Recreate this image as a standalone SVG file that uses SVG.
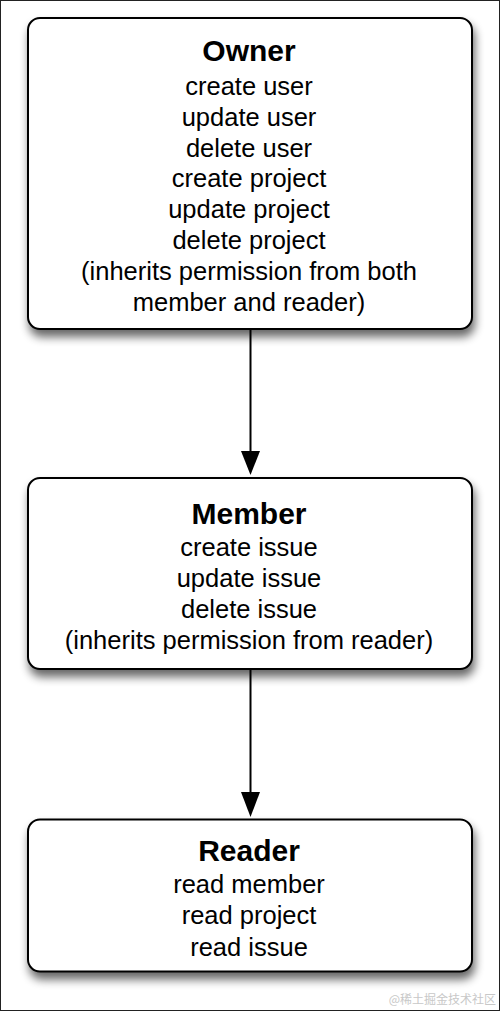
<svg xmlns="http://www.w3.org/2000/svg" width="500" height="1011" viewBox="0 0 500 1011">
<defs>
<filter id="shadow" x="-10%" y="-10%" width="125%" height="135%">
<feGaussianBlur in="SourceAlpha" stdDeviation="5"/>
<feOffset dx="2" dy="7" result="b"/>
<feComponentTransfer><feFuncA type="linear" slope="0.6"/></feComponentTransfer>
<feMerge><feMergeNode/><feMergeNode in="SourceGraphic"/></feMerge>
</filter>
</defs>
<style>
.box{fill:#fff;stroke:#000;stroke-width:2}
.title{font-family:"Liberation Sans",Arial,sans-serif;font-weight:bold;font-size:30px;text-anchor:middle;fill:#000}
.body{font-family:"Liberation Sans",Arial,sans-serif;font-size:25.5px;text-anchor:middle;fill:#000}
.edge{stroke:#000;stroke-width:2;fill:none}
.head{fill:#000}
</style>
<rect x="0" y="0" width="500" height="1011" fill="#fff"/>
<rect x="0.5" y="0.5" width="499" height="1010" fill="none" stroke="#222" stroke-width="1"/>
<g id="connectors">
<line class="edge" x1="250.5" y1="329" x2="250.5" y2="452"/>
<path class="head" d="M241,451 L260,451 L250.5,475 Z"/>
<line class="edge" x1="250.5" y1="669" x2="250.5" y2="793"/>
<path class="head" d="M241,792 L260,792 L250.5,817 Z"/>
</g>
<g id="owner">
<rect class="box" x="28" y="18" width="444" height="311" rx="12" filter="url(#shadow)"/>
<text class="title" x="249" y="61">Owner</text>
<text class="body" x="249" y="95">create user</text>
<text class="body" x="249" y="126">update user</text>
<text class="body" x="249" y="156.5">delete user</text>
<text class="body" x="249" y="187">create project</text>
<text class="body" x="249" y="218">update project</text>
<text class="body" x="249" y="248.5">delete project</text>
<text class="body" x="249" y="279.5">(inherits permission from both</text>
<text class="body" x="249" y="310.5">member and reader)</text>
</g>
<g id="member">
<rect class="box" x="28" y="478" width="444" height="191" rx="12" filter="url(#shadow)"/>
<text class="title" x="249" y="524">Member</text>
<text class="body" x="249" y="556">create issue</text>
<text class="body" x="249" y="587">update issue</text>
<text class="body" x="249" y="617.5">delete issue</text>
<text class="body" x="249" y="648.5">(inherits permission from reader)</text>
</g>
<g id="reader">
<rect class="box" x="28" y="819.5" width="444" height="152" rx="12" filter="url(#shadow)"/>
<text class="title" x="249" y="861">Reader</text>
<text class="body" x="249" y="893">read member</text>
<text class="body" x="249" y="924">read project</text>
<text class="body" x="249" y="955.5">read issue</text>
</g>
<text x="496" y="1004" font-family="'Noto Sans CJK SC',sans-serif" font-size="12" fill="#c8c8c8" text-anchor="end">@稀土掘金技术社区</text>
</svg>
